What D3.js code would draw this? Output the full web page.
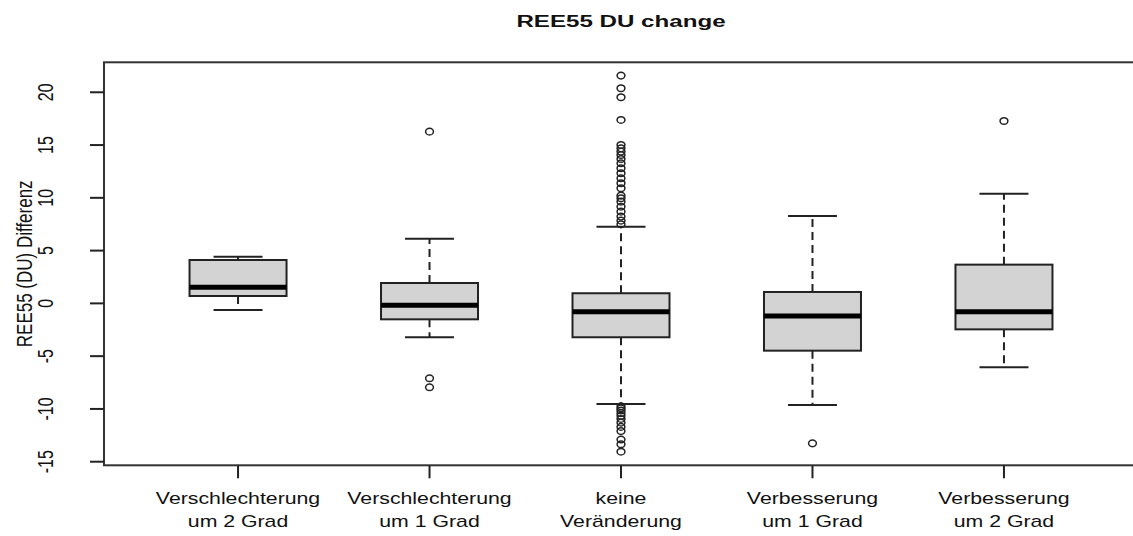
<!DOCTYPE html>
<html>
<head>
<meta charset="utf-8">
<script src="https://cdn.jsdelivr.net/npm/d3@7"></script>
<style>
  html, body { margin: 0; padding: 0; background: #fff; }
  svg { display: block; }
  text { font-family: "Liberation Sans", Arial, sans-serif; fill: #111; }
</style>
</head>
<body>
<div id="chart"></div>
<script>
// Groups on the x axis (two-line labels)
const categories = [
  ["Verschlechterung", "um 2 Grad"],
  ["Verschlechterung", "um 1 Grad"],
  ["keine", "Veränderung"],
  ["Verbesserung", "um 1 Grad"],
  ["Verbesserung", "um 2 Grad"]
];

// Five-number summaries per group
const whiskerLow  = [-0.63, -3.21, -9.53, -9.63, -6.06];
const q1          = [ 0.70, -1.51, -3.21, -4.48, -2.46];
const median      = [ 1.53, -0.18, -0.79, -1.19, -0.79];
const q3          = [ 4.11,  1.93,  0.96,  1.08,  3.67];
const whiskerHigh = [ 4.42,  6.13,  7.27,  8.28, 10.39];

// Outlying values per group
const outliers = [
  [],
  [16.27, -7.10, -7.95],
  [21.58, 20.38, 19.53, 17.38,
   15.01, 14.69, 14.38, 14.06, 13.68, 13.27, 12.80, 12.33, 11.85, 11.38,
   10.91, 10.21, 9.96, 9.64, 9.16, 8.69, 8.22, 7.84, 7.49,
   -9.75, -9.95, -10.15, -10.40, -10.65, -10.95, -11.30, -11.70, -12.10,
   -12.90, -13.35, -14.05],
  [-13.26],
  [17.28]
];

const yTicks = [-15, -10, -5, 0, 5, 10, 15, 20];

const W = 1133, H = 536;
const svg = d3.select("#chart").append("svg")
  .attr("width", W).attr("height", H);

// The output device is wider than tall: text glyphs are stretched horizontally
const sx = 1.38;

const plot = { left: 104, right: 1138, top: 62.3, bottom: 465.3 };

const x = d3.scaleLinear().domain([0.3, 5.7]).range([plot.left, plot.right]);
const y = d3.scaleLinear().domain([-15.34, 22.84]).range([plot.bottom, plot.top]);

const boxHalf = 48.5;   // half box width in px
const capHalf = 24.5;   // half staple width in px

const ink = "#222";

// Boxes
const g = svg.append("g");
categories.forEach((c, i) => {
  const cx = x(i + 1);
  // dashed whiskers
  g.append("line")
    .attr("x1", cx).attr("x2", cx)
    .attr("y1", y(q3[i])).attr("y2", y(whiskerHigh[i]))
    .attr("stroke", ink).attr("stroke-width", 2).attr("stroke-dasharray", "8,5");
  g.append("line")
    .attr("x1", cx).attr("x2", cx)
    .attr("y1", y(q1[i])).attr("y2", y(whiskerLow[i]))
    .attr("stroke", ink).attr("stroke-width", 2).attr("stroke-dasharray", "8,5");
  // staples
  [whiskerLow[i], whiskerHigh[i]].forEach(v => {
    g.append("line")
      .attr("x1", cx - capHalf).attr("x2", cx + capHalf)
      .attr("y1", y(v)).attr("y2", y(v))
      .attr("stroke", ink).attr("stroke-width", 2);
  });
  // box
  g.append("rect")
    .attr("x", cx - boxHalf).attr("width", boxHalf * 2)
    .attr("y", y(q3[i])).attr("height", y(q1[i]) - y(q3[i]))
    .attr("fill", "#d3d3d3").attr("stroke", ink).attr("stroke-width", 2);
  // median
  g.append("line")
    .attr("x1", cx - boxHalf).attr("x2", cx + boxHalf)
    .attr("y1", y(median[i])).attr("y2", y(median[i]))
    .attr("stroke", "#000").attr("stroke-width", 5);
  // outliers
  g.selectAll(null).data(outliers[i]).enter().append("ellipse")
    .attr("cx", cx).attr("cy", d => y(d))
    .attr("rx", 3.9).attr("ry", 3.3)
    .attr("fill", "none").attr("stroke", ink).attr("stroke-width", 1.5);
});

// Plot frame
svg.append("rect")
  .attr("x", plot.left).attr("y", plot.top)
  .attr("width", plot.right - plot.left).attr("height", plot.bottom - plot.top)
  .attr("fill", "none").attr("stroke", "#333").attr("stroke-width", 2);

// Y axis ticks
yTicks.forEach(t => {
  svg.append("line")
    .attr("x1", plot.left - 14).attr("x2", plot.left)
    .attr("y1", y(t)).attr("y2", y(t))
    .attr("stroke", "#222").attr("stroke-width", 2);
  svg.append("text")
    .attr("transform", `translate(53,${y(t)}) scale(${sx},1) rotate(-90)`)
    .attr("text-anchor", "middle")
    .attr("font-size", 16)
    .text(t);
});

// X axis ticks and labels
categories.forEach((c, i) => {
  const cx = x(i + 1);
  svg.append("line")
    .attr("x1", cx).attr("x2", cx)
    .attr("y1", plot.bottom).attr("y2", plot.bottom + 13)
    .attr("stroke", "#222").attr("stroke-width", 2);
  c.forEach((line, k) => {
    svg.append("text")
      .attr("transform", `translate(${cx},${504 + k * 23}) scale(1.33,1)`)
      .attr("text-anchor", "middle")
      .attr("font-size", 16)
      .text(line);
  });
});

// Y axis title
svg.append("text")
  .attr("transform", `translate(32,${(plot.top + plot.bottom) / 2}) scale(1.3,1) rotate(-90)`)
  .attr("text-anchor", "middle")
  .attr("font-size", 17)
  .text("REE55 (DU) Differenz");

// Main title
svg.append("text")
  .attr("transform", `translate(${(plot.left + plot.right) / 2},27) scale(1.42,1)`)
  .attr("text-anchor", "middle")
  .attr("font-size", 17)
  .attr("font-weight", "bold")
  .text("REE55 DU change");
</script>
</body>
</html>
